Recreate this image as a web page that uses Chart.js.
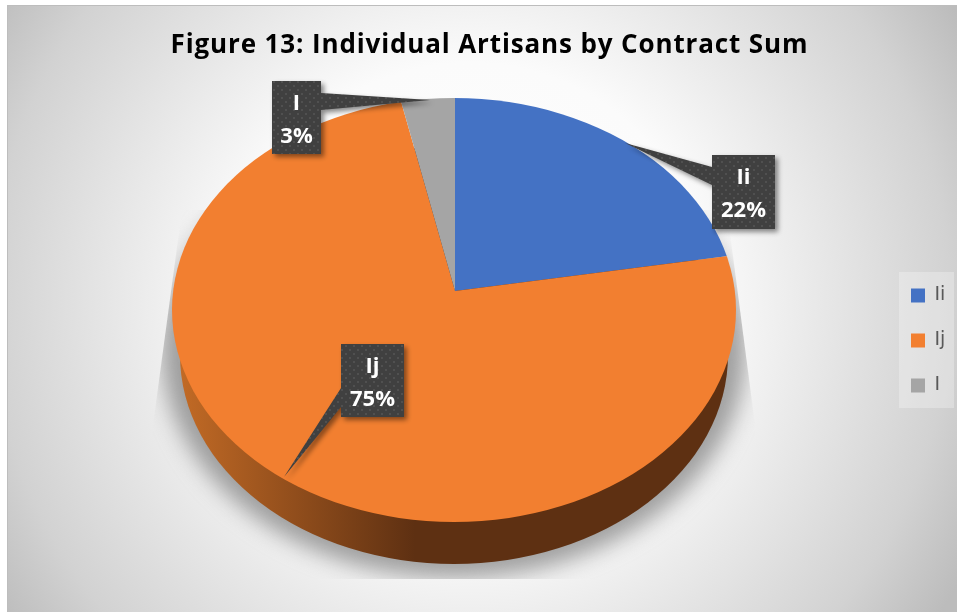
<!DOCTYPE html>
<html>
<head>
<meta charset="utf-8">
<style>
  html, body { margin: 0; padding: 0; background: #fff; }
  canvas { display: block; }
</style>
<script src="https://cdn.jsdelivr.net/npm/chart.js@4/dist/chart.umd.min.js"></script>
</head>
<body>
<canvas id="chart" width="957" height="612"></canvas>
<script>
const titleText = 'Figure 13: Individual Artisans by Contract Sum';
const categories = ['Ii', 'Ij', 'I'];
const shares = [22, 75, 3];
const sliceColors = ['#4472C4', '#F27F30', '#A5A5A5'];

// tilted disc: the top face is an ellipse, slices fan out from an off-centre apex
const apex = { x: 455, y: 291, squash: 0.67 };
const face = { x: 454, y: 310, rx: 282, ry: 212 };
const base = { x: 454, y: 355, rx: 274, ry: 209 };

// callouts, in category order
const callouts = [
  { x: 712, y: 155, w: 63, h: 74, tip: [625, 143], root: [[712, 167], [712, 185]] },
  { x: 341, y: 344, w: 63, h: 73, tip: [284, 477], root: [[341, 388], [341, 407]] },
  { x: 272, y: 81, w: 49, h: 73, tip: [430, 100], root: [[321, 93], [321, 110]] }
];

function ellipsePath(ctx, e) {
  ctx.beginPath();
  ctx.ellipse(e.x, e.y, e.rx, e.ry, 0, 0, Math.PI * 2);
}

function dotPattern(ctx) {
  const tile = document.createElement('canvas');
  tile.width = 8;
  tile.height = 8;
  const t = tile.getContext('2d');
  t.fillStyle = '#404040';
  t.fillRect(0, 0, 8, 8);
  t.fillStyle = '#505050';
  t.fillRect(1, 1, 2, 2);
  t.fillRect(5, 5, 2, 2);
  return ctx.createPattern(tile, 'repeat');
}

const backdrop = {
  id: 'backdrop',
  afterInit(chart) {
    // the title is set a little wider than the font's own spacing, right of centre
    const title = chart.titleBlock;
    const drawTitle = title.draw;
    title.draw = function () {
      chart.ctx.save();
      chart.ctx.letterSpacing = '0.87px';
      chart.ctx.translate(11, 0);
      drawTitle.call(title);
      chart.ctx.restore();
    };
  },
  beforeDraw(chart) {
    const ctx = chart.ctx;
    ctx.save();
    const g = ctx.createRadialGradient(470, 300, 0, 470, 300, 565);
    g.addColorStop(0, '#ffffff');
    g.addColorStop(0.42, '#fbfbfb');
    g.addColorStop(0.85, '#d2d2d2');
    g.addColorStop(1, '#bcbcbc');
    ctx.fillStyle = g;
    ctx.fillRect(8, 6, 949, 606);
    ctx.fillStyle = '#bdbdbd';
    ctx.fillRect(8, 5, 949, 1);
    ctx.fillRect(7, 5, 1, 607);
    // legend panel
    ctx.fillStyle = 'rgba(255,255,255,0.28)';
    ctx.fillRect(899, 272, 55, 136);
    ctx.restore();
  },
  afterLayout(chart) {
    const legend = chart.legend;
    legend.left = 885;
    legend.top = 260;
    legend.bottom = 460;
  }
};

const disc = {
  id: 'disc',
  beforeDatasetsDraw(chart) {
    const ctx = chart.ctx;
    const arc = chart.getDatasetMeta(0).data[0];

    // soft cast shadow, cut off by a trapezoid
    ctx.save();
    ctx.beginPath();
    ctx.moveTo(182, 210);
    ctx.lineTo(153, 425);
    ctx.lineTo(153, 579);
    ctx.lineTo(756, 579);
    ctx.lineTo(755, 425);
    ctx.lineTo(727, 210);
    ctx.closePath();
    ctx.clip();
    ctx.filter = 'blur(11px)';
    ctx.fillStyle = 'rgba(125,125,125,0.72)';
    ellipsePath(ctx, { x: 454, y: 350, rx: 292, ry: 228 });
    ctx.fill();
    ctx.restore();

    // side wall
    ctx.save();
    const wall = ctx.createLinearGradient(172, 0, 415, 0);
    wall.addColorStop(0, '#c56c26');
    wall.addColorStop(1, '#5e3012');
    ctx.fillStyle = wall;
    ellipsePath(ctx, base);
    ctx.fill();
    ctx.restore();

    // slices come out of the library's arcs, squashed and clipped to the face
    ctx.save();
    ellipsePath(ctx, face);
    ctx.clip();
    ctx.translate(apex.x, apex.y);
    ctx.scale(1, apex.squash);
    ctx.translate(-arc.x, -arc.y);
  },
  afterDatasetsDraw(chart) {
    const ctx = chart.ctx;
    ctx.restore();

    const fill = dotPattern(ctx);
    const total = shares.reduce((a, b) => a + b, 0);
    callouts.forEach((c, i) => {
      ctx.save();
      ctx.shadowColor = 'rgba(0,0,0,0.45)';
      ctx.shadowBlur = 5;
      ctx.shadowOffsetX = 3;
      ctx.shadowOffsetY = 3;
      ctx.fillStyle = fill;
      ctx.beginPath();
      ctx.rect(c.x, c.y, c.w, c.h);
      ctx.moveTo(c.root[0][0], c.root[0][1]);
      ctx.lineTo(c.tip[0], c.tip[1]);
      ctx.lineTo(c.root[1][0], c.root[1][1]);
      ctx.closePath();
      ctx.fill();
      ctx.restore();

      ctx.save();
      ctx.fillStyle = '#ffffff';
      ctx.font = 'bold 22px "Open Sans"';
      ctx.textAlign = 'center';
      ctx.textBaseline = 'middle';
      const mid = c.x + c.w / 2;
      ctx.fillText(categories[i], mid, c.y + 23);
      ctx.fillText(Math.round(shares[i] / total * 100) + '%', mid, c.y + 56);
      ctx.restore();
    });
  }
};

new Chart(document.getElementById('chart'), {
  type: 'pie',
  data: {
    labels: categories,
    datasets: [{
      data: shares,
      backgroundColor: sliceColors,
      borderWidth: 0,
      clip: false
    }]
  },
  options: {
    responsive: false,
    animation: false,
    radius: 380,
    plugins: {
      tooltip: { enabled: false },
      title: {
        display: true,
        text: titleText,
        color: '#000000',
        font: { family: '"Open Sans"', size: 26, weight: 'bold', lineHeight: 1.2 },
        padding: { top: 30, bottom: 7 }
      },
      legend: {
        position: 'right',
        align: 'start',
        labels: {
          boxWidth: 14,
          boxHeight: 14,
          padding: 26,
          color: '#595959',
          font: { family: '"DejaVu Sans"', size: 19, lineHeight: 1 }
        }
      }
    }
  },
  plugins: [backdrop, disc]
});
</script>
</body>
</html>
